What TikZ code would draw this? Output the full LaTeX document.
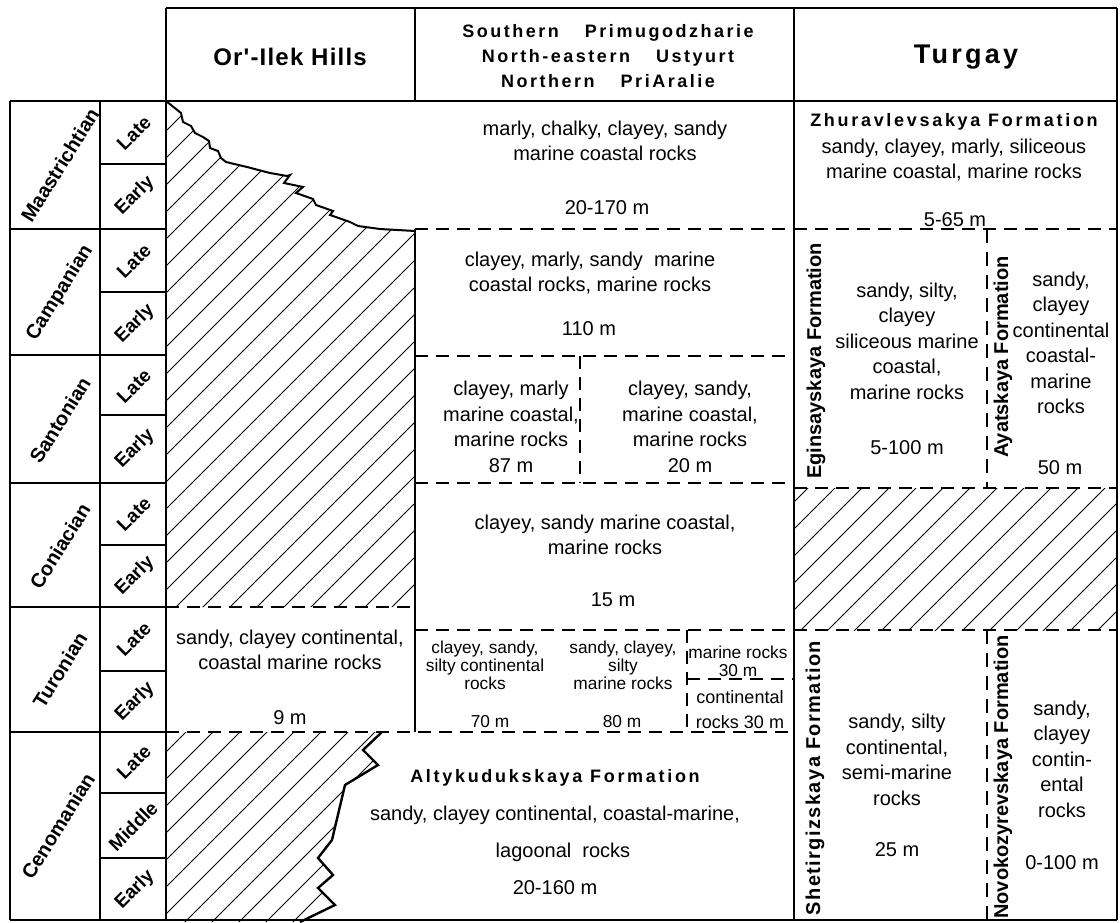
\documentclass[tikz,border=0pt]{standalone}
\usepackage{fontspec}
\setmainfont{Liberation Sans}
\newfontfamily\hdrfont[LetterSpace=14]{Liberation Sans}
\newfontfamily\orfont[Ligatures=TeXOff,LetterSpace=5]{Liberation Sans}
\begin{document}
\begin{tikzpicture}[x=1pt,y=-1pt,
  grid/.style={line width=1.6pt},
  dsh/.style={line width=1.6pt, dash pattern=on 13pt off 8pt},
  vdsh/.style={line width=1.1pt, dash pattern=on 14pt off 9pt},
  hatch/.style={line width=0.9pt},
  jag/.style={line width=2.4pt, line join=miter},
  curve/.style={line width=2pt, line join=miter},
  txt/.style={font=\fontsize{20}{25.5}\selectfont, align=center, inner sep=0pt},
  small/.style={font=\fontsize{17.3}{18}\selectfont, align=center, inner sep=0pt},
  stage/.style={font=\fontsize{20}{24}\selectfont\bfseries, rotate=58, inner sep=0pt},
  substage/.style={font=\fontsize{19}{24}\selectfont\bfseries, rotate=45, inner sep=0pt},
  fm/.style={font=\fontsize{20}{24}\selectfont\bfseries, rotate=90, inner sep=0pt},
  fmtitle/.style={font=\fontsize{18}{22}\selectfont\bfseries\addfontfeatures{LetterSpace=15}, inner sep=0pt},
]
\useasboundingbox (0,0) rectangle (1120,923);

% ---------- hatching ----------
\begin{scope}
\clip (166,101) -- (181,113) -- (183,122) -- (191,126) -- (195,133) -- (203,137) -- (209,141) -- (210,148) -- (218,151) -- (221,158) -- (226,162) -- (247,167) -- (270,173) -- (287,176) -- (290,175) -- (284,183) -- (303,187) -- (296,193) -- (313,199) -- (316,205) -- (333,211) -- (330,215) -- (350,222) -- (358,226) -- (380,229) -- (415,231) -- (415,607) -- (166,607) -- cycle;
\foreach \k in {9,...,39} \draw[hatch] ({27*\k-950},950) -- ({27*\k-50},50);
\end{scope}
\begin{scope}
\clip (166,732) -- (382,732) -- (363,750) -- (378,765) -- (345,785) -- (332,840) -- (318,858) -- (333,875) -- (318,888) -- (335,905) -- (300,922) -- (166,922) -- cycle;
\foreach \k in {32,...,49} \draw[hatch] ({27*\k-950},950) -- ({27*\k-50},50);
\end{scope}
\begin{scope}
\clip (794,488) rectangle (1117,630);
\foreach \k in {46,...,66} \draw[hatch] ({27*\k-950},950) -- ({27*\k-50},50);
\end{scope}

% ---------- solid grid ----------
\draw[grid] (166,8) -- (1117,8);
\draw[grid] (166,8) -- (166,920);
\draw[grid] (415,8) -- (415,101);
\draw[grid] (794,8) -- (794,920);
\draw[grid] (1117,8) -- (1117,920);
\draw[grid] (10,101) -- (1117,101);
\draw[grid] (10,101) -- (10,920);
\draw[grid] (100,101) -- (100,920);
\draw[grid] (10,920) -- (1117,920);
\foreach \y in {229,355,483,607,732} \draw[grid] (10,\y) -- (166,\y);
\foreach \y in {164,292,415,545,671,793,858} \draw[grid] (100,\y) -- (166,\y);
\draw[grid] (415,229) -- (415,732);

% ---------- jagged boundaries ----------
\draw[curve] (166,101) -- (181,113) -- (183,122) -- (191,126) -- (195,133) -- (203,137) -- (209,141) -- (210,148) -- (218,151) -- (221,158) -- (226,162) -- (247,167) -- (270,173) -- (287,176) -- (290,175) -- (284,183) -- (303,187) -- (296,193) -- (313,199) -- (316,205) -- (333,211) -- (330,215) -- (350,222) -- (358,226) -- (380,229) -- (415,231);
\draw[jag] (382,732) -- (363,750) -- (378,765) -- (345,785) -- (332,840) -- (318,858) -- (333,875) -- (318,888) -- (335,905) -- (300,922);

% ---------- dashed lines ----------
\draw[dsh] (415,229) -- (794,229);
\draw[dsh] (415,356) -- (794,356);
\draw[dsh] (415,483) -- (794,483);
\draw[dsh] (415,630) -- (794,630);
\draw[dsh] (166,607) -- (415,607);
\draw[dsh] (166,732) -- (794,732);
\draw[dsh] (580,356) -- (580,483);
\draw[dsh] (687,630) -- (687,732);
\draw[dsh] (687,679) -- (794,679);
\draw[dsh] (794,229) -- (1117,229);
\draw[dsh] (794,488) -- (1117,488);
\draw[dsh] (794,630) -- (1117,630);
\draw[vdsh] (987,229) -- (987,488);
\draw[vdsh] (987,630) -- (987,920);

% ---------- headers ----------
\node[font=\fontsize{24}{28}\selectfont\orfont\bfseries, inner sep=0pt] (hOr) at (290,57) {Or'-Ilek Hills};
\node[font=\fontsize{18}{25}\selectfont\hdrfont\bfseries, align=center, inner sep=0pt] (hMid) at (608,56) {Southern\hspace{26pt}Primugodzharie\\North-eastern\hspace{26pt}Ustyurt\\Northern\hspace{26pt}PriAralie};
\node[font=\fontsize{27}{30}\selectfont\bfseries\addfontfeatures{LetterSpace=12}, inner sep=0pt] (hTu) at (966,57) {Turgay};

% ---------- stages ----------
\node[stage] (sMa) at (60,165) {Maastrichtian};
\node[stage] (sCa) at (60,293) {Campanian};
\node[stage] (sSa) at (60,420) {Santonian};
\node[stage] (sCo) at (60,546) {Coniacian};
\node[stage] (sTu) at (60,670) {Turonian};
\node[stage] (sCe) at (58,826) {Cenomanian};

\node[substage] (uMaL) at (134,133) {Late};
\node[substage] (uMaE) at (135,196) {Early};
\node[substage] (uCaL) at (134,261) {Late};
\node[substage] (uCaE) at (135,324) {Early};
\node[substage] (uSaL) at (134,386) {Late};
\node[substage] (uSaE) at (135,449) {Early};
\node[substage] (uCoL) at (134,514) {Late};
\node[substage] (uCoE) at (135,576) {Early};
\node[substage] (uTuL) at (134,639) {Late};
\node[substage] (uTuE) at (135,702) {Early};
\node[substage] (uCeL) at (134,762) {Late};
\node[substage] (uCeM) at (133,826) {Middle};
\node[substage] (uCeE) at (135,890) {Early};

% ---------- middle column ----------
\node[txt] (mMa) at (605,141) {marly, chalky, clayey, sandy\\marine coastal rocks};
\node[txt] (mMat) at (607,208) {20-170 m};
\node[txt] (mCa) at (590,273) {clayey, marly, sandy\ \ marine\\coastal rocks, marine rocks};
\node[txt] (mCat) at (589,329) {110 m};
\node[txt] (mSaL) at (511,427) {clayey, marly\\marine coastal,\\marine rocks\\87 m};
\node[txt] (mSaR) at (690,427) {clayey, sandy,\\marine coastal,\\marine rocks\\20 m};
\node[txt] (mCo) at (605,535) {clayey, sandy marine coastal,\\marine rocks};
\node[txt] (mCot) at (613,600) {15 m};
\node[small] (mTu1) at (485,665) {clayey, sandy,\\silty continental\\rocks};
\node[small] (mTu2) at (623,665) {sandy, clayey,\\silty\\marine rocks};
\node[small] (mTu1t) at (490,722) {70 m};
\node[small] (mTu2t) at (622,722) {80 m};
\node[small] (mTu3) at (738,661) {marine rocks\\30 m};
\node[font=\fontsize{18}{25}\selectfont, align=center, inner sep=0pt] (mTu4) at (740,710) {continental\\rocks 30 m};

% ---------- Or'-Ilek ----------
\node[txt] (oTu) at (290,650) {sandy, clayey continental,\\coastal marine rocks};
\node[txt] (oTut) at (290,718) {9 m};

% ---------- Altykudukskaya ----------
\node[fmtitle] (aTi) at (555,778) {Altykudukskaya Formation};
\node[txt] (aL1) at (555,815) {sandy, clayey continental, coastal-marine,};
\node[txt] (aL2) at (563,852) {lagoonal\ \ rocks};
\node[txt] (aL3) at (555,888) {20-160 m};

% ---------- Turgay ----------
\node[fmtitle] (zTi) at (954,122) {Zhuravlevsakya Formation};
\node[txt] (zTx) at (954,160) {sandy, clayey, marly, siliceous\\marine coastal, marine rocks};
\node[txt] (zTt) at (955,220) {5-65 m};

\node[fm] (eFm) at (816,361) {Eginsayskaya Formation};
\node[txt] (eTx) at (907,341) {sandy, silty,\\clayey\\siliceous marine\\coastal,\\marine rocks};
\node[txt] (eTt) at (907,448) {5-100 m};

\node[fm] (yFm) at (1003,357) {Ayatskaya Formation};
\node[txt] (yTx) at (1061,343) {sandy,\\clayey\\continental\\coastal-\\marine\\rocks};
\node[txt] (yTt) at (1060,468) {50 m};

\node[fm, font=\fontsize{20}{24}\selectfont\bfseries\addfontfeatures{LetterSpace=7}] (sFm) at (815,778) {Shetirgizskaya Formation};
\node[txt] (sTx) at (897,760) {sandy, silty\\continental,\\semi-marine\\rocks};
\node[txt] (sTt) at (897,850) {25 m};

\node[fm] (nFm) at (1003,777) {Novokozyrevskaya Formation};
\node[txt] (nTx) at (1062,759) {sandy,\\clayey\\contin-\\ental\\rocks};
\node[txt] (nTt) at (1062,863) {0-100 m};
\end{tikzpicture}
\end{document}
